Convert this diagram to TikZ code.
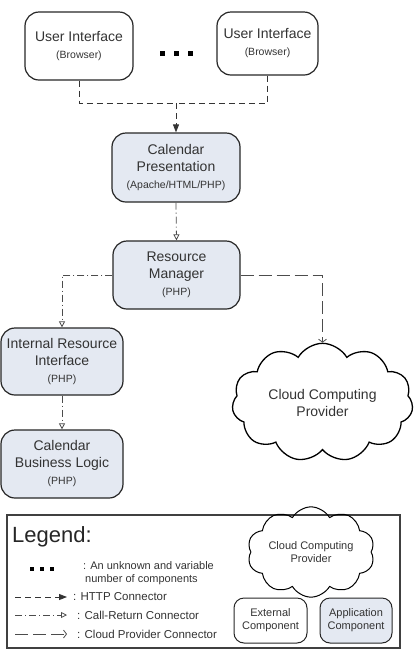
\documentclass[tikz,border=0pt]{standalone}
\usepackage{fontspec}
\setmainfont{Liberation Sans}
\usetikzlibrary{shapes.symbols,arrows.meta}

\definecolor{appfill}{HTML}{E4E9F2}
\definecolor{txtgray}{HTML}{333333}
\newcommand{\subl}[1]{{\fontsize{10.5}{12}\selectfont #1}}

\begin{document}
\begin{tikzpicture}[x=1pt,y=-1pt,
    comp/.style={draw=black!85, line width=1.2pt, rounded corners=14pt, align=center,
                 text=txtgray, font=\fontsize{14}{17}\selectfont, inner sep=0pt},
    appcomp/.style={comp, fill=appfill},
    cloudbox/.style={cloud, draw=black, line width=1.3pt, cloud puffs=11, cloud puff arc=120,
                 align=center, text=txtgray, inner sep=0pt},
    http/.style={dash pattern=on 6pt off 4pt, line width=0.9pt, black!80, -{Triangle[length=8pt,width=6pt]}},
    callret/.style={dash pattern=on 7pt off 3pt on 1pt off 3pt, line width=0.8pt, black!70, -{Triangle[open,length=6pt,width=6pt]}},
    cloudcon/.style={dash pattern=on 13pt off 5pt, line width=0.8pt, black!70, -{Straight Barb[length=3pt,width=8pt]}},
    dotsq/.style={fill=black, inner sep=0pt, minimum size=#1}
  ]
  \useasboundingbox (0,0) rectangle (420,657);

  % components
  \node[comp, minimum width=108pt, minimum height=68pt] (ui1) at (79,46) {User Interface\\\subl{(Browser)}};
  \node[comp, minimum width=101pt, minimum height=63pt] (ui2) at (267.5,43.5) {User Interface\\\subl{(Browser)}};
  \node[dotsq=5pt] (d1) at (162,53) {};
  \node[dotsq=5pt] (d2) at (176,53) {};
  \node[dotsq=5pt] (d3) at (190,53) {};

  \node[appcomp, minimum width=128pt, minimum height=69pt] (pres) at (176,167.5)
    {Calendar\\Presentation\\\subl{(Apache/HTML/PHP)}};
  \node[appcomp, minimum width=127pt, minimum height=68pt] (rm) at (176.5,275)
    {Resource\\Manager\\\subl{(PHP)}};
  \node[appcomp, minimum width=122pt, minimum height=67pt] (iri) at (62,361.5)
    {Internal Resource\\Interface\\\subl{(PHP)}};
  \node[appcomp, minimum width=122pt, minimum height=68pt] (bl) at (62,464)
    {Calendar\\Business Logic\\\subl{(PHP)}};
  \node[cloudbox, aspect=1.57, minimum width=181pt, minimum height=115pt,
        font=\fontsize{14}{17}\selectfont] (ccp) at (322.5,402.5) {Cloud Computing\\Provider};

  % connectors
  \coordinate (join) at (176,103);
  \draw[http, -] (ui1.south) |- (join);
  \draw[http, -] (ui2.south) |- (join);
  \draw[http] (join) -- (pres.north);
  \draw[callret] (pres.south) -- (rm.north);
  \draw[callret] (rm.west) -| (iri.north);
  \draw[callret] (iri.south) -- (bl.north);
  \draw[cloudcon] (rm.east) -| (ccp.north);

  % legend
  \node[draw=black!75, line width=1.6pt, minimum width=393pt, minimum height=133pt, inner sep=0pt] (leg) at (203.5,581.5) {};
  \node[anchor=west, font=\fontsize{22}{24}\selectfont, text=black!85, inner sep=0pt] (legt) at (12,537) {Legend:};
  \node[dotsq=3.5pt] (ld1) at (32,569) {};
  \node[dotsq=3.5pt] (ld2) at (42,569) {};
  \node[dotsq=3.5pt] (ld3) at (52,569) {};
  \node[anchor=west, align=left, text=txtgray, font=\fontsize{11}{13}\selectfont, inner sep=0pt] (lt1) at (83,573.5)
    {: An unknown and variable\\\hspace*{2pt}number of components};
  \coordinate (h1) at (15,597); \coordinate (h2) at (67,597);
  \coordinate (c1) at (15,615); \coordinate (c2) at (67,615);
  \coordinate (p1) at (15,634); \coordinate (p2) at (67,634);
  \draw[http] (h1) -- (h2);
  \draw[callret] (c1) -- (c2);
  \draw[cloudcon] (p1) -- (p2);
  \node[anchor=west, text=txtgray, font=\fontsize{11.5}{13}\selectfont, inner sep=0pt] (lt2) at (73,597) {: HTTP Connector};
  \node[anchor=west, text=txtgray, font=\fontsize{11.5}{13}\selectfont, inner sep=0pt] (lt3) at (77,615) {: Call-Return Connector};
  \node[anchor=west, text=txtgray, font=\fontsize{11.5}{13}\selectfont, inner sep=0pt] (lt4) at (77,634) {: Cloud Provider Connector};

  \node[cloudbox, line width=1pt, cloud puffs=10, aspect=1.66, minimum width=108pt, minimum height=65pt,
        font=\fontsize{11}{13}\selectfont] (lcl) at (311,552) {Cloud Computing\\Provider};
  \node[comp, rounded corners=10pt, line width=1pt, minimum width=73pt, minimum height=45pt,
        font=\fontsize{11}{13}\selectfont] (ext) at (270.5,620.5) {External\\Component};
  \node[appcomp, rounded corners=10pt, line width=1pt, minimum width=72pt, minimum height=45pt,
        font=\fontsize{11}{13}\selectfont] (app) at (356,620.5) {Application\\Component};
\end{tikzpicture}
\end{document}
